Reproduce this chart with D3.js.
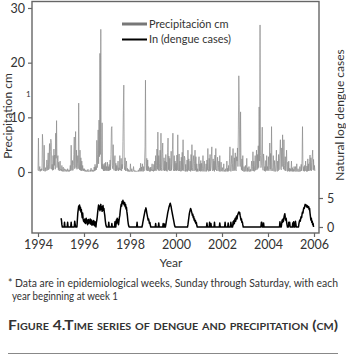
<!DOCTYPE html>
<html lang="en">
<head>
<meta charset="UTF-8" />
<title>Figure 4</title>
<style>
  body { margin: 0; background: #fff; }
  svg text { font-family: Lato, "Open Sans", sans-serif; fill: #333; }
</style>
</head>
<body>
<div class="chart"></div>
<script src="https://d3js.org/d3.v7.min.js"></script>
<script>
// weekly precipitation (cm), one array of 52 weeks per year
const precip1994 = [0.3,6.2,0.2,0.4,1.0,0.1,0.5,0.2,0.6,0.3,6.9,5.0,0.4,0.2,4.9,0.3,0.1,0.8,0.2,0.5,2.2,0.3,1.4,3.5,0.4,1.8,5.2,0.6,3.8,6.0,5.4,0.5,1.4,0.3,3.0,0.4,4.2,1.2,3.1,0.5,7.1,2.5,9.4,0.8,2.1,3.0,0.4,1.8,0.2,0.9,2.0,0.3]
const precip1995 = [0.5,0.2,1.2,0.1,0.4,0.9,0.1,0.3,0.6,0.1,0.2,0.5,0.1,0.3,0.1,0.6,0.2,0.1,0.4,0.1,0.5,1.2,0.2,4.9,0.4,0.3,2.1,0.3,1.2,3.2,6.4,0.6,3.5,7.4,0.8,4.0,0.5,1.6,3.0,0.6,12.6,2.2,0.4,4.0,0.3,2.6,0.2,2.0,0.3,1.2,0.2,0.6]
const precip1996 = [0.2,0.6,0.1,0.1,0.4,0.1,0.1,0.3,0.1,0.5,0.1,0.1,0.2,0.1,0.4,0.1,0.7,0.2,0.1,0.4,0.1,0.3,0.1,0.9,0.2,1.4,0.3,1.0,0.4,5.8,0.8,3.2,7.7,1.5,9.5,2.8,21.7,3.2,26.1,2.0,0.6,9.0,0.5,1.5,0.2,1.2,0.2,1.6,0.3,1.8,0.2,1.0]
const precip1997 = [0.3,1.8,0.2,1.0,0.2,1.4,0.3,2.2,0.4,3.2,8.0,8.3,1.2,0.6,5.0,0.8,0.3,2.0,3.0,0.2,1.6,0.2,1.2,0.3,0.9,2.0,0.2,0.8,0.4,3.0,0.3,0.6,2.5,0.2,1.4,0.6,5.6,11.3,15.9,1.2,0.4,2.6,0.2,1.0,2.0,0.2,0.7,0.1,0.5,0.1,0.3,0.1]
const precip1998 = [0.1,1.5,0.1,0.1,0.6,0.1,0.1,0.2,1.0,0.1,0.1,0.3,0.1,0.1,0.2,0.1,0.1,0.2,0.1,0.4,0.1,0.2,0.7,0.1,1.6,0.2,0.9,0.1,1.5,0.3,0.1,1.0,0.2,2.0,4.6,16.8,1.2,0.3,2.5,0.2,2.2,0.2,1.0,0.3,0.1,0.8,0.1,0.9,0.2,0.6,1.5,0.2]
const precip1999 = [0.4,0.1,1.4,0.2,2.0,0.3,3.0,0.2,1.2,4.2,0.5,7.3,0.3,3.0,0.2,1.6,4.0,0.3,7.1,0.8,0.2,3.4,5.3,0.4,0.3,2.6,0.2,2.0,0.3,3.2,0.2,1.8,0.1,3.6,6.2,0.4,2.9,0.2,2.5,0.5,0.2,3.8,0.3,1.6,4.1,7.1,0.6,0.2,3.0,0.2,2.0,0.3]
const precip2000 = [1.6,0.2,3.1,0.3,6.8,0.5,0.2,3.3,0.2,2.0,0.4,0.1,2.7,0.2,3.6,0.3,5.9,0.4,0.2,2.9,2.5,0.1,1.4,0.1,0.6,2.2,0.1,4.0,0.3,2.4,0.2,0.5,2.0,0.1,3.2,0.3,5.0,0.8,0.2,1.9,3.0,0.2,1.6,4.0,0.3,2.8,0.1,1.5,0.1,0.6,0.1,1.6]
const precip2001 = [2.8,0.2,1.5,0.1,2.1,0.2,1.6,0.1,0.6,3.0,0.3,0.1,2.0,0.2,0.1,0.5,1.5,0.1,2.2,0.3,4.3,0.6,0.1,2.5,0.2,3.2,0.2,0.9,2.8,4.6,0.5,0.2,2.4,0.3,2.0,0.1,3.1,0.4,4.3,0.6,0.2,1.2,2.7,0.2,0.8,2.0,0.1,3.0,0.3,0.1,1.8,0.2]
const precip2002 = [0.2,0.8,0.1,0.4,1.5,0.1,0.3,0.1,0.6,0.1,0.3,2.0,0.1,0.7,0.1,1.2,0.2,2.4,4.6,0.3,0.1,1.4,3.0,0.2,1.6,4.3,0.4,0.2,2.6,0.3,3.5,0.5,0.2,2.8,2.0,4.4,1.0,7.7,17.6,12.4,3.5,1.0,11.0,1.2,0.4,2.4,0.2,3.0,0.3,0.1,1.0,0.1]
const precip2003 = [0.2,1.2,0.1,0.6,2.5,0.1,0.8,0.1,0.3,1.0,0.1,0.1,0.5,0.1,0.7,2.0,0.2,1.0,3.7,0.2,2.0,0.1,1.2,3.0,0.3,1.6,4.0,0.4,3.2,0.6,4.8,0.8,11.9,2.0,26.9,3.0,0.8,1.2,4.2,8.2,0.6,0.3,3.3,2.0,0.2,1.0,0.1,2.1,0.3,3.0,0.2,1.0]
const precip2004 = [0.4,2.8,0.2,1.2,5.3,0.5,3.4,0.2,8.3,0.8,0.3,0.2,3.0,0.3,0.1,2.1,0.2,0.1,1.4,4.0,0.3,0.1,2.0,0.2,3.2,0.4,2.4,3.8,5.9,0.6,0.4,4.4,1.0,6.8,1.6,0.5,5.9,1.2,0.3,2.8,0.2,1.4,4.0,0.3,0.1,1.8,0.2,2.0,0.1,0.7,0.1,0.6]
const precip2005 = [0.2,2.0,0.1,0.8,0.1,0.5,0.1,1.0,0.2,0.1,1.0,0.1,0.1,1.5,0.2,0.1,0.6,0.1,0.2,0.1,1.0,0.1,0.4,1.4,0.2,2.2,8.3,0.8,0.2,1.0,0.1,1.2,0.2,2.0,0.3,0.1,1.1,0.1,2.4,0.2,1.5,0.2,1.9,3.1,0.3,2.6,0.2,1.7,2.8,4.0,0.4,2.3]
const precip2006 = [0.3,1.2,0.2]

// weekly ln(dengue cases), from 1995
const dengue1995 = [1.5,1.2,0.4,0,0,0,0,0,0.8,0,0,0,0,0,0,0.8,0,0,0,0,0,0,0,0.8,0,0,0,0,0,0,0,1.0,0.5,0,0,0,0,1.2,2.4,3.0,3.6,3.2,3.8,2.9,3.4,2.6,3.0,2.2,1.6,2.4,1.4,1.0]
const dengue1996 = [1.2,0.8,1.4,0.6,1.0,1.5,0.7,1.2,0.4,1.0,1.3,0.6,1.1,0.8,1.4,0.5,0.9,1.2,0.3,0.8,1.0,0.4,1.1,0.6,0.2,0.9,0.5,0,0.8,1.2,1.8,2.6,3.2,3.8,3.1,3.6,2.8,3.4,3.9,3.0,3.5,2.7,3.3,3.7,2.9,3.2,2.5,2.0,1.2,0.6,0.2,0]
const dengue1997 = [0,0,0,0,0.8,0,0,0,0,0,0,0.6,0,0,0,0,0,0,0.9,0,0,1.2,0.6,1.5,0.8,1.3,0.4,1.0,1.6,2.0,2.8,3.4,3.9,3.6,4.4,4.1,4.6,4.0,4.3,3.8,4.2,3.5,3.9,3.1,3.4,2.6,2.0,1.2,0.6,0.2,0,0]
const dengue1998 = [0,0,0,0,0,0,0,0,0,0,0,0,0,0,0,0,0.8,0,0,0,0,0,0,0,0,0,0,0,0.3,0.8,1.2,1.6,2.0,2.4,2.8,3.0,3.3,2.9,2.4,2.0,1.6,1.2,1.4,1.0,0.6,0.8,0.3,0,0,0,0,0]
const dengue1999 = [0,0,0,0,0,0,0.6,0,0,0,0,0,0,0.7,0,0,0,0,0,0,0,0,0,0.6,0,0,0.5,0,0,0.4,0.9,1.4,1.8,2.3,2.7,3.0,3.4,3.6,3.9,4.1,3.8,3.5,3.0,2.6,2.2,1.8,1.4,1.0,0.6,0.2,0,0]
const dengue2000 = [0,0,0,0,0,0,0,0,0,0,0,0,0,0,0,0,0,0,0,0,0,0,0,0,0,0,0,0.4,1.0,1.6,2.2,2.6,2.9,3.2,3.0,2.7,2.4,2.0,2.2,1.6,1.8,1.2,1.4,0.9,1.1,0.6,0.8,0.3,0,0,0,0]
const dengue2001 = [0,0,0,0,0,0,0,0,0,0,0,0,0,0,0,0,0,0,0.7,0,0,0,0,0,0.8,0,0,0.6,0,0,0,0,0,0,0,0.8,0,0,0,0,0,0,0,0,0,0,0,0.7,0,0,0,0]
const dengue2002 = [0,0,0,0,0,0,0,0.8,0,0,0,0,0,0,0.7,0,0,0,0,0,0.8,0.3,0,0,0,0.9,0.4,1.1,0.6,1.2,1.5,1.0,1.6,1.9,1.4,2.0,2.2,2.4,2.6,2.3,2.5,2.0,1.6,1.2,1.4,0.8,0.9,0.4,0,0,0,0]
const dengue2003 = [0,0,0,0,0,0,0,0,0,0,0,0,0,0,0,0,0,0,0,0,0,0,0,0,0,0,0,0,0,0,0,0,0,0,0,0,0,0.8,0.8,0,0,0,0.7,0,0,0,0,0,0,0,0,0]
const dengue2004 = [0,0,0,0,0,0,0,0,0,0,0,0,0,0,0,0,0,0,0,0,0,0,0,0,0,0,0,0.9,0.3,0,0,0.6,1.2,0.8,1.4,1.0,1.6,2.0,2.3,1.7,1.2,1.5,0.9,0.4,0,0,0,0.8,0.3,0.8,0,0]
const dengue2005 = [0,0,0,0,0.7,0,0.9,0.4,0,0,1.0,0.5,0,0,0,0,0,0,0.6,1.0,1.2,1.0,1.5,1.8,1.6,2.2,2.6,2.4,3.0,3.3,3.2,3.6,3.9,3.7,3.8,3.5,3.7,3.4,3.6,3.3,3.5,3.0,3.2,2.4,1.8,1.2,1.5,0.8,1.0,0.4,0.6,0]

const precipYears = [precip1994, precip1995, precip1996, precip1997, precip1998, precip1999,
  precip2000, precip2001, precip2002, precip2003, precip2004, precip2005, precip2006]
const dengueYears = [dengue1995, dengue1996, dengue1997, dengue1998, dengue1999, dengue2000,
  dengue2001, dengue2002, dengue2003, dengue2004, dengue2005]

const yearTicks = [1994, 1996, 1998, 2000, 2002, 2004, 2006]
const precipTicks = [0, 10, 20, 30]
const dengueTicks = [0, 5]

// flatten weekly arrays into [time, value]
const toSeries = (years, start) => years.flatMap((arr, k) => arr.map((v, j) => ({ t: start + k + j / 52, v })))
const precipData = toSeries(precipYears, 1994)
const dengueData = toSeries(dengueYears, 1995)

const W = 346, H = 364
const frame = { left: 32, right: 319, top: 1.5, bottom: 233 }

const svg = d3.select('.chart').append('svg')
  .attr('width', W).attr('height', H)

const x = d3.scaleLinear().domain([1994, 2006]).range([38, 314])
const yP = d3.scaleLinear().domain([0, 30]).range([172, 8])
const yD = d3.scaleLinear().domain([0, 5]).range([227, 198])

// series
svg.append('path')
  .datum(precipData)
  .attr('fill', 'none')
  .attr('stroke', '#8a8a8a')
  .attr('stroke-width', 0.7)
  .attr('d', d3.line().x(d => x(d.t)).y(d => yP(d.v)))

svg.append('path')
  .datum(dengueData)
  .attr('fill', 'none')
  .attr('stroke', '#000')
  .attr('stroke-width', 1.5)
  .attr('stroke-linejoin', 'round')
  .attr('d', d3.line().x(d => x(d.t)).y(d => yD(d.v)))

// frame
svg.append('rect')
  .attr('x', frame.left).attr('y', frame.top)
  .attr('width', frame.right - frame.left).attr('height', frame.bottom - frame.top)
  .attr('fill', 'none').attr('stroke', '#666').attr('stroke-width', 1.4)

const styleAxis = g => {
  g.select('.domain').remove()
  g.selectAll('line').attr('stroke', '#666').attr('stroke-width', 1.2)
  g.selectAll('text').style('font-size', '12.5px').attr('fill', '#333')
}

svg.append('g')
  .attr('transform', `translate(${frame.left},0)`)
  .call(d3.axisLeft(yP).tickValues(precipTicks).tickSize(4).tickPadding(3))
  .call(styleAxis)

svg.append('g')
  .attr('transform', `translate(${frame.right},0)`)
  .call(d3.axisRight(yD).tickValues(dengueTicks).tickFormat(d3.format('d')).tickSize(4).tickPadding(4))
  .call(styleAxis)

svg.append('g')
  .attr('transform', `translate(0,${frame.bottom})`)
  .call(d3.axisBottom(x).tickValues(yearTicks).tickFormat(d3.format('d')).tickSize(4).tickPadding(3))
  .call(styleAxis)

// axis titles
svg.append('text')
  .attr('transform', 'translate(12,116) rotate(-90)')
  .attr('text-anchor', 'middle')
  .style('font-size', '12px')
  .text('Precipitation cm')

svg.append('text')
  .attr('transform', 'translate(344,115) rotate(-90)')
  .attr('text-anchor', 'middle')
  .style('font-size', '12px')
  .text('Natural log dengue cases')

svg.append('text')
  .attr('x', 171).attr('y', 267)
  .attr('text-anchor', 'middle')
  .style('font-size', '12px')
  .text('Year')

svg.append('text')
  .attr('x', 26).attr('y', 97)
  .style('font-size', '8px')
  .text('1')

// legend
const legend = [
  { label: 'Precipitación cm', color: '#777', width: 3, y: 24 },
  { label: 'In (dengue cases)', color: '#000', width: 2, y: 39.5 }
]
const lg = svg.append('g').selectAll('g').data(legend).join('g')
lg.append('line')
  .attr('x1', 122).attr('x2', 147)
  .attr('y1', d => d.y).attr('y2', d => d.y)
  .attr('stroke', d => d.color).attr('stroke-width', d => d.width)
lg.append('text')
  .attr('x', 149).attr('y', d => d.y + 3.5)
  .style('font-size', '11px')
  .text(d => d.label)

// footnote and caption
svg.append('text')
  .attr('x', 8).attr('y', 287)
  .attr('textLength', 330).attr('lengthAdjust', 'spacingAndGlyphs')
  .style('font-size', '10.5px')
  .text('* Data are in epidemiological weeks, Sunday through Saturday, with each')

svg.append('text')
  .attr('x', 12).attr('y', 300)
  .attr('textLength', 106).attr('lengthAdjust', 'spacingAndGlyphs')
  .style('font-size', '10.5px')
  .text('year beginning at week 1')

svg.append('text')
  .attr('x', 8).attr('y', 330)
  .attr('textLength', 330).attr('lengthAdjust', 'spacingAndGlyphs')
  .style('font-size', '13px')
  .style('font-weight', 'bold')
  .style('font-variant', 'small-caps')
  .attr('fill', '#222')
  .text('Figure 4.Time series of dengue and precipitation (cm)')

svg.append('line')
  .attr('x1', 8).attr('x2', 338)
  .attr('y1', 353.5).attr('y2', 353.5)
  .attr('stroke', '#888').attr('stroke-width', 1)
</script>
</body>
</html>
